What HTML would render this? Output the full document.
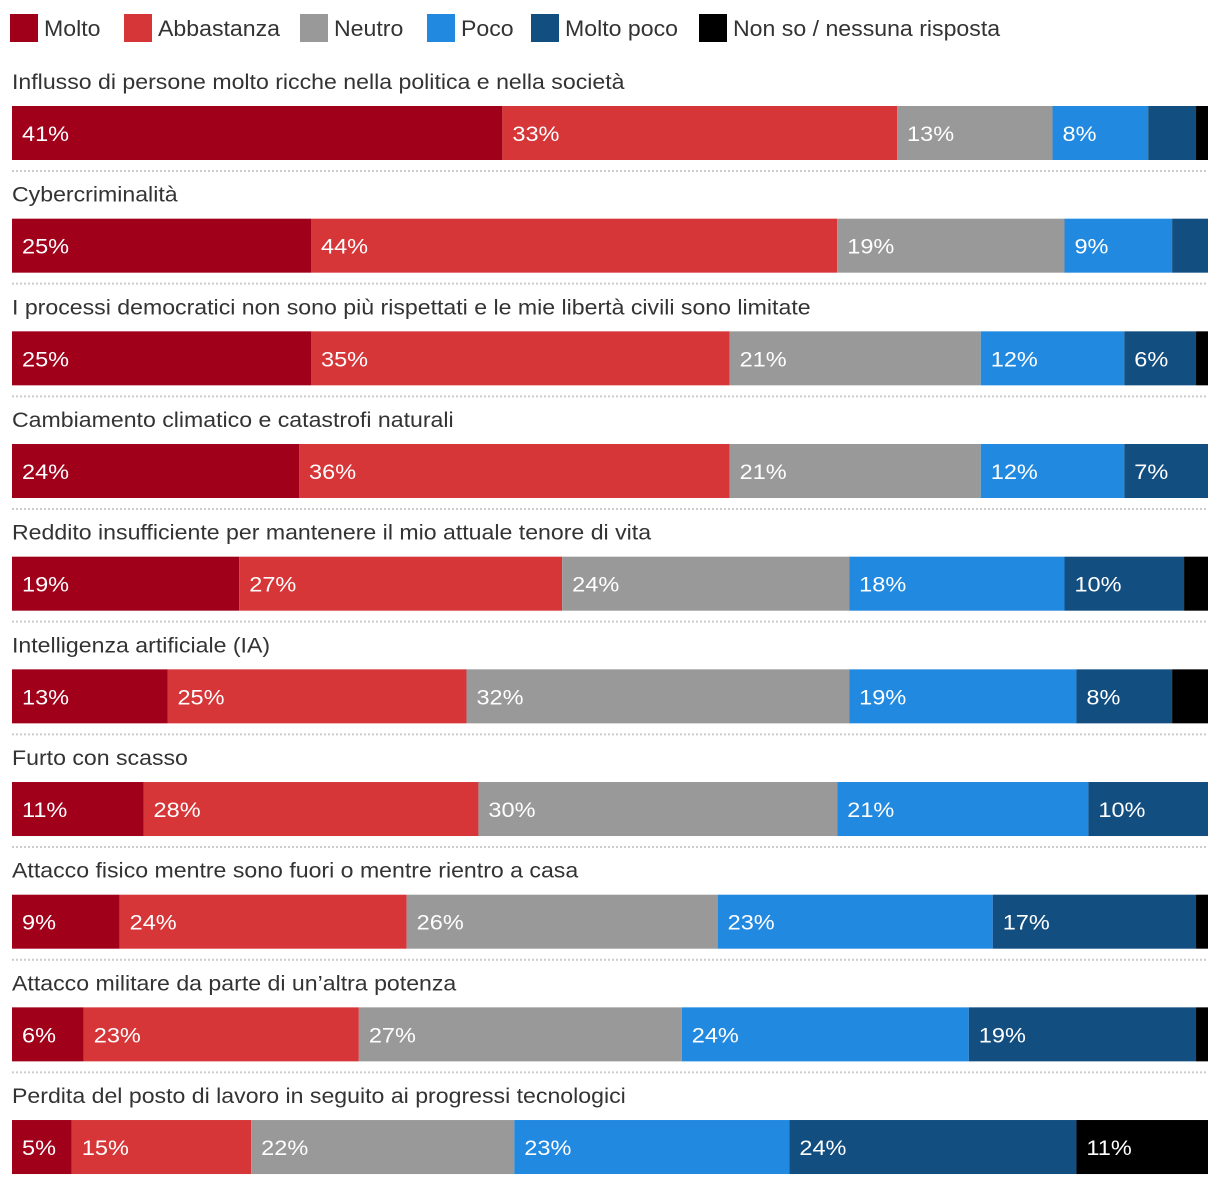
<!DOCTYPE html>
<html><head><meta charset="utf-8"><style>
body{margin:0;background:#fff;}
svg{display:block;font-family:"Liberation Sans",sans-serif;}
</style></head><body>
<svg id="c" width="1220" height="1186"></svg>
<script>
const seriesNames=["Molto","Abbastanza","Neutro","Poco","Molto poco","Non so / nessuna risposta"];
const colors=["#a0001a","#d63638","#999999","#2189e0","#124e80","#000000"];
const categories=["Influsso di persone molto ricche nella politica e nella società","Cybercriminalità","I processi democratici non sono più rispettati e le mie libertà civili sono limitate","Cambiamento climatico e catastrofi naturali","Reddito insufficiente per mantenere il mio attuale tenore di vita","Intelligenza artificiale (IA)","Furto con scasso","Attacco fisico mentre sono fuori o mentre rientro a casa","Attacco militare da parte di un’altra potenza","Perdita del posto di lavoro in seguito ai progressi tecnologici"];
const molto=[41,25,25,24,19,13,11,9,6,5];
const abbastanza=[33,44,35,36,27,25,28,24,23,15];
const neutro=[13,19,21,21,24,32,30,26,27,22];
const poco=[8,9,12,12,18,19,21,23,24,23];
const moltoPoco=[4,3,6,7,10,8,10,17,19,24];
const nonSo=[1,0,1,0,2,3,0,1,1,11];
const series=[molto,abbastanza,neutro,poco,moltoPoco,nonSo];
const NS="http://www.w3.org/2000/svg";
const svg=document.getElementById("c");
const x0=12,plotW=1196;
const xs=v=>v/100*plotW;
const rowY=i=>106+i*112.67;
function mk(t,a,p){const e=document.createElementNS(NS,t);for(const k in a)e.setAttribute(k,a[k]);(p||svg).appendChild(e);return e;}
function widen(t,f){const w=t.getComputedTextLength();t.setAttribute("textLength",w*f);t.setAttribute("lengthAdjust","spacingAndGlyphs");}
// legend
const lx=[10,124,300,427,531,699];
seriesNames.forEach((n,j)=>{
 const g=mk("g",{});
 
 
 mk("rect",{x:lx[j],y:14,width:28,height:28,fill:colors[j]},g);
 const t=mk("text",{x:lx[j]+34,y:36,"font-size":22,fill:"#333"},g);t.textContent=n;
 widen(t,1.05);
});
categories.forEach((c,i)=>{
 const y=rowY(i);
 const lab=mk("text",{x:12,y:y-17,"font-size":21,fill:"#333"});
 lab.textContent=c;
 
 
 widen(lab,1.1);
 let acc=0;
 series.forEach((s,j)=>{
  const v=s[i];
  if(v>0){
   const r=mk("rect",{x:x0+xs(acc),y:y,width:xs(v),height:54,fill:colors[j]});
   
   
   if(v>=5){const t=mk("text",{x:x0+xs(acc)+10,y:y+35,"font-size":21,fill:"#fff"});t.textContent=v+"%";
    
    
    widen(t,1.12);}
  }
  acc+=v;
 });
 if(i<categories.length-1){
  const l=mk("line",{x1:12,x2:1208,y1:y+65,y2:y+65,stroke:"#ccc","stroke-width":2,"stroke-dasharray":"2 2"});
  
  
 }
});
</script>
</body></html>
